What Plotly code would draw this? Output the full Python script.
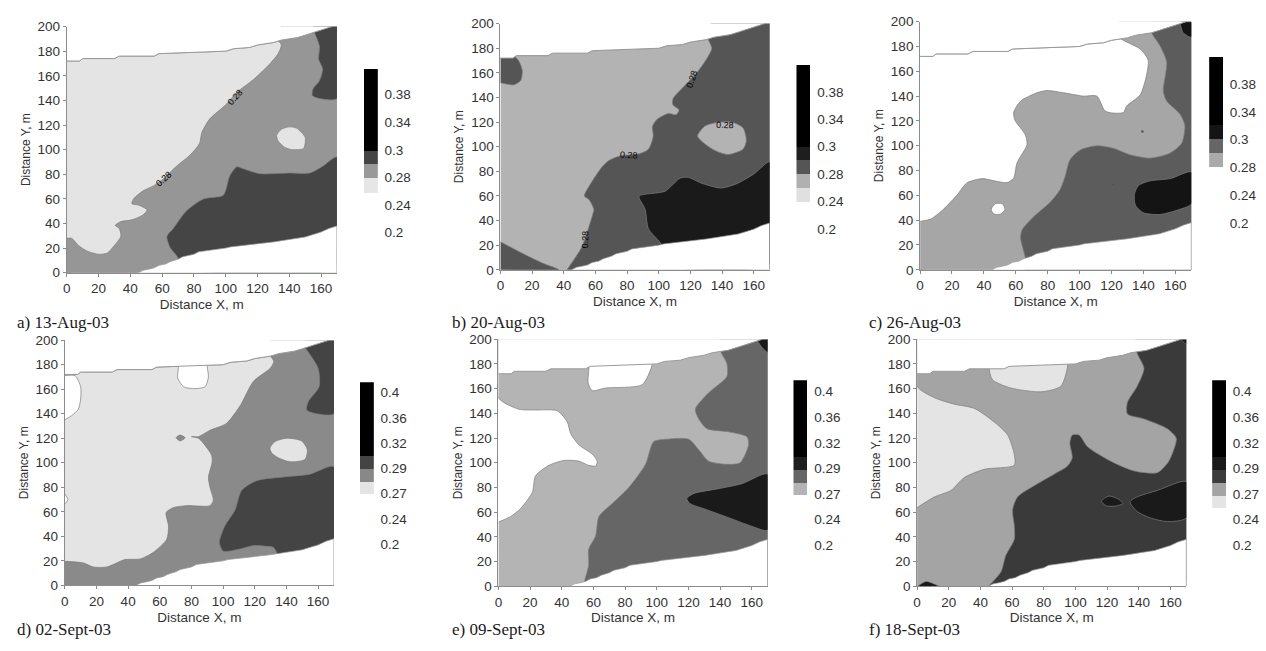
import plotly.graph_objects as go
import numpy as np

W, H = 1266, 651

# Field boundary shared by all maps (x, y in metres)
TOP_EDGE = [(0,172),(8,172),(10,174),(30,174),(33,176),(55,176),(58,178),(80,179),(100,180),(105,182),(115,183),(120,185),(130,187),(135,189),(145,191),(150,193),(155,195),(160,197),(165,199),(167,200),(170,200)]
BOTTOM_EDGE = [(45,0),(48,2),(52,3),(55,4),(58,6),(62,7),(65,9),(70,11),(73,13),(80,15),(83,17),(90,18),(93,19),(100,20),(103,21),(110,22),(120,23),(130,25),(140,27),(145,28),(150,29),(155,31),(160,33),(165,36),(170,38)]
FIELD = TOP_EDGE + BOTTOM_EDGE[::-1] + [(0,0)]

# Contour regions (x, y in metres)
A_MID = [(0,28),(3,28),(7.5,22),(13,17.5),(20,15),(25.5,16),(29.5,21.5),(34,29.5),(33,36),(30.5,38.5),(34,41.5),(41,43),(48,47),(50.5,51),(45,55),(41,56),(42,60),(48,66.5),(54.5,70.5),(60.5,76),(69,86.5),(77.5,95.5),(83.5,105),(85,114),(90,125),(100.5,137),(107,146.5),(117.5,157),(128,170),(133,178),(135,185),(132.5,190),(135,200),(170,200),(170,0),(0,0)]
A_DARK_TOP = [(155.5,196),(159,184),(158.5,173.5),(161,165.5),(159,156),(155,149.5),(154.5,144),(159,141.5),(170,141.5),(170,200),(155,200)]
A_DARK_LOW = [(63,29.5),(67,36),(75.5,50.5),(86,60),(98.5,63),(102.5,78.5),(107,86),(111,84.5),(121.5,80.5),(140,81),(153,81),(161,86.5),(170,94),(170,5),(70,5),(70,12),(65,20.5),(63,29.5)]
A_HOLE = [(132,111.5),(135,116.5),(140,118.5),(144.5,117.5),(150,110),(149,101),(141.5,100),(137,102),(133,107),(132,111.5)]

B_DARK = [(42,0),(46.3,8),(51.5,18.7),(58,43.8),(59,49),(56,57),(53,60),(57,70),(64,83.3),(68.3,88.6),(75.7,92.6),(87,94),(93.5,98),(96.5,108.5),(96,116.4),(98.7,122),(106,127),(111,126),(112.8,130),(109,133.9),(109,139),(116.5,149.7),(124,160),(130,170.8),(133.5,180),(131,188.6),(133,200),(170,200),(170,0)]
B_DARK_LOWLEFT = [(0,22.8),(11.7,14.8),(26.4,5.6),(36.9,0),(0,0)]
B_DARK_TOPLEFT = [(0,172),(8.6,173.5),(11.7,169.5),(13.8,161.7),(12.8,153.7),(8.6,150.3),(0,152)]
B_HOLE = [(124.5,108.7),(129,116.6),(135.4,119.3),(145.9,120),(153.2,115.3),(155.3,104.8),(153.2,98),(143.8,93.7),(135.4,97),(128,103.5),(124.5,108.7)]
B_BLACK = [(87.6,59.8),(104,63.8),(113.4,74.4),(118.6,75.1),(127,70.4),(139.6,66.4),(150,70.4),(160.6,78.3),(170,87.6),(170,5),(103,5),(101.9,20.1),(93.5,33.3),(91.4,49.2),(87.6,59.8)]

C_MID = [(0,39),(6.7,40.9),(14,48),(23,60),(29.3,70),(39,73.5),(47,71.6),(54.5,70.3),(58.7,74),(60.7,86),(67,100.8),(66,108.7),(59.5,120.5),(58.7,127),(63,136),(73.3,142.7),(79.6,144.5),(90,142.7),(102.5,140),(110.8,140),(116,128),(121.3,126.3),(127.5,126.8),(129.5,132),(138,141),(142,157),(143,169),(138,178),(125,187.5),(125,200),(170,200),(170,0),(0,0)]
C_DARK = [(145,200),(145.2,191),(150.4,180.6),(154.6,167.5),(152.5,143.9),(154.6,136),(162.9,125.5),(166,116.3),(164,101.9),(156.6,94),(144,90),(131.6,92.7),(121.2,97.9),(110.8,100),(100.4,96.6),(94,88.7),(91,75.6),(87.9,65),(81.7,54.6),(71.2,42.8),(64,32.3),(63,25.7),(66,9.5),(66,0),(170,0),(170,200)]
C_BLACK_TOP = [(163,199),(165,191),(170,187.5),(170,200),(163,200)]
C_BLACK_LOW = [(134.4,61),(137,68),(144,71.6),(157,73.5),(170,78.8),(170,53),(163,48.8),(150.4,44.6),(140,46),(135,52),(134.4,61)]
C_HOLE = [(44.6,48.8),(47.3,53.3),(51.5,53.3),(53.2,48.8),(50.5,45),(46.3,45),(44.6,48.8)]
C_SPECK_X = [139.4, 121]
C_SPECK_Y = [111.5, 68.5]

D_MID = [(0,19.6),(11.8,18.3),(18,15),(26.5,15),(38,21),(47.6,21.5),(56,27),(64.4,37.7),(65.5,48.3),(64,59.4),(68.6,63.4),(77,65),(91.7,65),(93.8,69.5),(91.7,80),(90.7,88),(93,100),(92.8,106),(87.5,116),(84.4,120),(80,121.3),(84.4,121.3),(91.7,126.5),(102,132),(110.8,146.6),(119.2,166.5),(129.7,177),(132,182.6),(129.7,187.9),(130,200),(170,200),(170,0),(0,0)]
D_BLOB = [(70.3,120.4),(72.8,122.6),(76,120.4),(72.8,117.8),(70.3,120.4)]
D_DARK_TOP = [(151.7,194),(160,177),(160.6,162),(153.8,150),(152.7,143),(159,140),(170,140),(170,200),(151.7,200)]
D_DARK_LOW = [(97.6,35),(101,48.3),(107.5,61.5),(111.7,77.5),(121.2,85.4),(140,88.6),(154.8,90.7),(170,96.8),(170,5),(134,5),(133.8,26.5),(131.7,31),(127.5,31.8),(119,32.4),(110.7,29.7),(100.1,27.9),(97.6,35)]
D_HOLE = [(129.6,112),(132.8,117.3),(140,120),(149.6,117.8),(153.2,110.6),(151.7,102.7),(142.2,100.8),(134.9,104),(130.7,108),(129.6,112)]
D_WHITE_LEFT = [(0,171),(6.5,171),(10,162),(10,152),(8.6,143.8),(4.4,138.5),(0,135)]
D_WHITE_TOP = [(71.7,185),(71.7,177),(71.3,169),(75,162),(81.2,160.5),(88.6,162),(90.7,170),(90,178.3),(90,185)]
D_WHITE_SMALL = [(0,74.8),(1.9,70),(0,66.3)]

E_MID = [(0,52),(7.8,56.6),(14,63),(21.4,76),(23.5,89.5),(32,98),(41.4,101.9),(50.8,101.3),(57,97.9),(61.4,97.4),(62.4,101.3),(59.2,107),(50.8,114.5),(45.6,123.7),(43.5,132.9),(37.2,142),(23.5,142.7),(13,143.3),(0,152.6),(0,200),(170,200),(170,0),(0,0)]
E_WHITE_TOP = [(57,185),(57.2,177.6),(56.7,164.5),(59.2,158.4),(67.7,160.5),(90.8,163.2),(97,179),(97,185)]
E_DARK = [(54.4,0),(54.4,4),(57,17),(57,30),(61.4,40.8),(63.5,56.6),(71.9,67),(82.4,80),(92.9,98.7),(98,117),(105.5,119),(120.2,119),(126.5,110.5),(132.8,101.3),(145.4,98.7),(152.7,100),(158,114.5),(157,121),(145.4,125),(131.7,127.6),(126.5,135.5),(124.4,143.4),(132.8,156.6),(144.3,169.8),(144.3,180.3),(140.1,190.8),(140,200),(170,200),(170,0)]
E_BLACK_TOP = [(164.3,197.4),(166.4,193.4),(170,189.5),(170,200),(164,200)]
E_BLACK_LOW = [(119,71),(123.2,75),(139,79),(153.8,83),(170,90.8),(170,45.5),(160,48.7),(143.2,56.6),(130.7,62.4),(121,67),(119,71)]

F_MID = [(0,63.7),(11,72.4),(21.4,77.6),(29.8,88),(42.4,94.7),(61.4,98),(61.4,106.6),(57.2,122.4),(48.7,133),(36.1,144),(23.5,147.4),(11,152.6),(0,161.9),(0,200),(170,200),(170,0),(0,0)]
F_LIGHT_TOP = [(45.6,185),(45.6,175),(47.7,167),(59.2,160.5),(78.2,157.4),(90.8,161.9),(95,177.6),(95,185)]
F_DARK = [(45,0),(53,11.8),(56,25),(61.4,38),(61.4,48.7),(60.3,61.8),(63.5,72.4),(76,83),(86.6,90.8),(95,97.4),(98,104),(96.5,115.8),(98,122.4),(102.3,122.4),(107.6,113),(122.3,101.3),(137,93.4),(151.7,92),(159,101.3),(163.7,119.8),(158,127.6),(143.3,135.5),(132.8,139.5),(132.8,148.7),(139,161.9),(143.3,176.3),(138.7,189.5),(138,200),(170,200),(170,0)]
F_BLACK_CORNER = [(0.4,0),(5.7,4),(14,0)]
F_BLACK_SMALL = [(116.4,69),(121.2,73),(126.5,71),(130,67),(124.4,64.8),(119.2,65.3),(116.4,69)]
F_BLACK_LOW = [(134.5,68.4),(139,72.4),(151.7,77.6),(170,84.7),(170,55.3),(158,52.4),(147.5,55.3),(139,60.5),(134.5,68.4)]
F_BLACK_TOP = [(166.4,200),(170,196),(170,200)]

PANEL_TITLES = ["a) 13-Aug-03", "b) 20-Aug-03", "c) 26-Aug-03", "d) 02-Sept-03", "e) 09-Sept-03", "f) 18-Sept-03"]
BASE_COLORS = ["#e4e4e4", "#b3b3b3", "#ffffff", "#e4e4e4", "#ffffff", "#e4e4e4"]

REGIONS = [
    [(A_MID,"#969696"),(A_DARK_TOP,"#454545"),(A_DARK_LOW,"#454545"),(A_HOLE,"#e4e4e4")],
    [(B_DARK,"#555555"),(B_DARK_LOWLEFT,"#555555"),(B_DARK_TOPLEFT,"#555555"),(B_HOLE,"#b3b3b3"),(B_BLACK,"#1a1a1a")],
    [(C_MID,"#a6a6a6"),(C_DARK,"#5c5c5c"),(C_BLACK_TOP,"#141414"),(C_BLACK_LOW,"#141414"),(C_HOLE,"#ffffff")],
    [(D_MID,"#8a8a8a"),(D_BLOB,"#8a8a8a"),(D_DARK_TOP,"#444444"),(D_DARK_LOW,"#444444"),(D_HOLE,"#e4e4e4"),(D_WHITE_LEFT,"#ffffff"),(D_WHITE_TOP,"#ffffff"),(D_WHITE_SMALL,"#ffffff")],
    [(E_MID,"#b4b4b4"),(E_WHITE_TOP,"#ffffff"),(E_DARK,"#666666"),(E_BLACK_TOP,"#1a1a1a"),(E_BLACK_LOW,"#1a1a1a")],
    [(F_MID,"#a4a4a4"),(F_LIGHT_TOP,"#e4e4e4"),(F_DARK,"#3a3a3a"),(F_BLACK_CORNER,"#1a1a1a"),(F_BLACK_SMALL,"#1a1a1a"),(F_BLACK_LOW,"#1a1a1a"),(F_BLACK_TOP,"#1a1a1a")],
]

# Colour-bar scales: labels sit at equal steps, edges are in label-step units
LABELS_TOP = ["0.2","0.24","0.28","0.3","0.34","0.38"]
LABELS_BOT = ["0.2","0.24","0.27","0.29","0.32","0.36","0.4"]
BAR_LABELS = [LABELS_TOP, LABELS_TOP, LABELS_TOP, LABELS_BOT, LABELS_BOT, LABELS_BOT]
BAR_EDGES = [
    [1.47,1.99,2.5,2.98,5.94],
    [0.99,1.49,2.0,2.52,2.99,5.99],
    [2.02,2.53,3.03,3.54,5.99],
    [1.99,2.47,2.99,3.48,6.41],
    [1.97,2.44,2.95,3.46,6.45],
    [1.46,1.93,2.44,2.95,3.46,6.45],
]
BAR_COLORS = [
    ["#e6e6e6","#999999","#444444","#000000"],
    ["#e0e0e0","#b0b0b0","#555555","#1e1e1e","#000000"],
    ["#aaaaaa","#666666","#141414","#000000"],
    ["#e4e4e4","#888888","#444444","#000000"],
    ["#b4b4b4","#666666","#1e1e1e","#000000"],
    ["#e4e4e4","#a4a4a4","#3c3c3c","#1a1a1a","#000000"],
]

# Contour labels: panel index, x, y, angle
CONTOUR_LABELS = [(0,61,76,-42),(0,106,143,-48),(1,121,155,-72),(1,81,93,4),(1,142,118,2),(1,53.6,25,-88)]

# Pixel frames
MAP_FRAMES = [(63,334,20,272),(498,768,17,269),(919,1191,15,269),(61,331,341,592),(496,766,340,593),(916,1186,340,593)]
BAR_FRAMES = [(361,375,63,231),(795,809,59,227),(1209,1223,51,221),(357,371,384,550),(792,806,382,551),(1212,1226,382,551)]
TITLE_POS = [(11,323),(447,323),(866,323),(11,637),(447,637),(866,637)]

TEXT = "#333333"
AXISC = "#8c8c8c"
SANS = "Liberation Sans"

fig = go.Figure()
layout = dict(width=W, height=H, margin=dict(l=0,r=0,t=0,b=0), paper_bgcolor="white", plot_bgcolor="white",
              showlegend=False, barmode="overlay", bargap=0, autosize=False)
annotations = []


def xy(points):
    return [p[0] for p in points], [p[1] for p in points]


def polygon(points, color, ax, ay, spline=True, line="#7c7c7c", lw=0.7):
    xs, ys = xy(points)
    fig.add_trace(go.Scatter(x=xs, y=ys, xaxis=ax, yaxis=ay, mode="lines", fill="toself", fillcolor=color,
                             line=dict(color=line, width=lw, shape="spline" if spline else "linear", smoothing=0.7),
                             hoverinfo="skip"))


for i in range(6):
    n = 2*i + 1
    ax, ay = f"x{n}", f"y{n}"
    x0, x1, top, bot = MAP_FRAMES[i]
    layout[f"xaxis{n}"] = dict(domain=[x0/W, x1/W], range=[0,170], anchor=ay, tickvals=list(range(0,161,20)),
                               ticks="outside", ticklen=3, tickcolor=AXISC, showline=True, linecolor=AXISC, linewidth=1,
                               showgrid=False, zeroline=False, tickfont=dict(family=SANS, size=13.5, color=TEXT),
                               title=dict(text="Distance X, m", font=dict(family=SANS, size=13.5, color=TEXT), standoff=4))
    layout[f"yaxis{n}"] = dict(domain=[1-bot/H, 1-top/H], range=[0,200], anchor=ax, tickvals=list(range(0,201,20)),
                               ticks="outside", ticklen=3, tickcolor=AXISC, showline=True, linecolor=AXISC, linewidth=1,
                               showgrid=False, zeroline=False, tickfont=dict(family=SANS, size=13.5, color=TEXT),
                               title=dict(text="Distance Y, m", font=dict(family=SANS, size=12, color=TEXT), standoff=4))
    polygon(FIELD, BASE_COLORS[i], ax, ay, spline=False, line="#999999", lw=1)
    for pts, col in REGIONS[i]:
        polygon(pts, col, ax, ay)
    if i == 2:
        fig.add_trace(go.Scatter(x=C_SPECK_X, y=C_SPECK_Y, xaxis=ax, yaxis=ay, mode="markers",
                                 marker=dict(size=2.5, color="#555555"), hoverinfo="skip"))
    # white outside the field, above and below its jagged edges
    polygon(TOP_EDGE + [(170,210),(0,210)], "white", ax, ay, spline=False, line="#999999", lw=1)
    polygon(BOTTOM_EDGE + [(170,-8),(45,-8)], "white", ax, ay, spline=False, line="#999999", lw=0.7)

    # colour bar
    m = 2*i + 2
    bx, by = f"x{m}", f"y{m}"
    l, r, t, b = BAR_FRAMES[i]
    edges = np.array(BAR_EDGES[i])
    fig.add_trace(go.Bar(x=[0]*len(BAR_COLORS[i]), y=np.diff(edges).tolist(), base=edges[:-1].tolist(), width=1,
                         marker=dict(color=BAR_COLORS[i], line=dict(width=0)), xaxis=bx, yaxis=by, hoverinfo="skip"))
    labels = BAR_LABELS[i]
    layout[f"xaxis{m}"] = dict(domain=[l/W, r/W], range=[-0.5,0.5], anchor=by, visible=False)
    layout[f"yaxis{m}"] = dict(domain=[1-b/H, 1-t/H], range=[0, edges[-1]], anchor=bx, side="right",
                               tickvals=list(range(len(labels))), ticktext=labels, ticks="outside", ticklen=3,
                               tickcolor="rgba(0,0,0,0)", showline=False, showgrid=False, zeroline=False,
                               tickfont=dict(family=SANS, size=13.5, color=TEXT))

    px, py = TITLE_POS[i]
    annotations.append(dict(text=PANEL_TITLES[i], xref="paper", yref="paper", x=px/W, y=1-py/H, xanchor="left",
                            yanchor="middle", showarrow=False, font=dict(family="Liberation Serif", size=17, color="#1a1a1a")))

for idx, x, y, ang in CONTOUR_LABELS:
    n = 2*idx + 1
    annotations.append(dict(text="0.28", xref=f"x{n}", yref=f"y{n}", x=x, y=y, textangle=ang, showarrow=False,
                            font=dict(family=SANS, size=9, color="#000000")))

layout["annotations"] = annotations
fig.update_layout(**layout)
fig.write_html("out.html", config={"displayModeBar": False},
               post_script="document.body.style.margin='0';document.body.style.overflow='hidden';")
